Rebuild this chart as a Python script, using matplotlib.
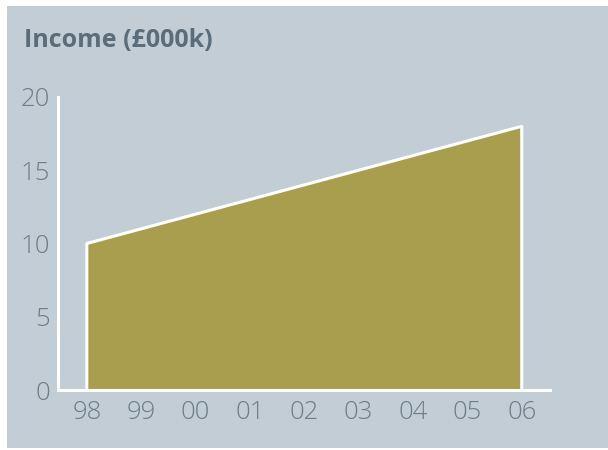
import matplotlib.pyplot as plt
from matplotlib.patches import Rectangle

years = ["98", "99", "00", "01", "02", "03", "04", "05", "06"]
income = [10, 11, 12, 13, 14, 15, 16, 17, 18]
yticks = [0, 5, 10, 15, 20]

panel = "#c2cdd6"
fill = "#a99e4e"
txt = "#6d7d89"
title_col = "#5b6d7a"

fig = plt.figure(figsize=(6.08, 4.5), dpi=100)
fig.patch.set_facecolor("white")
fig.patches.append(Rectangle((7 / 608, 2 / 450), 1, 442 / 450, transform=fig.transFigure,
                             facecolor=panel, edgecolor="none", zorder=-5))

ax = fig.add_axes([58 / 608, 60 / 450, 492 / 608, 293 / 450])
ax.set_zorder(2)
ax.set_facecolor("none")
x = list(range(len(years)))
ax.fill_between(x, 0, income, facecolor=fill, edgecolor="none", zorder=2)
# white outline on left, top and right of the area
ax.plot([x[0]] + x + [x[-1]], [0] + income + [0], color="white", lw=2.2, zorder=3)

ax.set_xlim(-0.53, 8.52)
ax.set_ylim(0, 20)
ax.set_xticks(x, years)
ax.set_yticks(yticks)
for s in ["top", "right"]:
    ax.spines[s].set_visible(False)
for s in ["left", "bottom"]:
    ax.spines[s].set_color("white")
    ax.spines[s].set_linewidth(2.2)
    ax.spines[s].set_zorder(4)
ax.tick_params(length=0, colors=txt, labelsize=18.5)
for lab in ax.get_xticklabels() + ax.get_yticklabels():
    lab.set_family("Open Sans")
    lab.set_fontweight("light")
ax.tick_params(axis="x", pad=7)
ax.tick_params(axis="y", pad=6)

fig.text(24 / 608, 1 - 47 / 450, "Income (£000k)", family="Open Sans", fontweight="bold",
         fontsize=18, color=title_col, ha="left", va="baseline")

fig.savefig("out.png", dpi=100, facecolor="white")
